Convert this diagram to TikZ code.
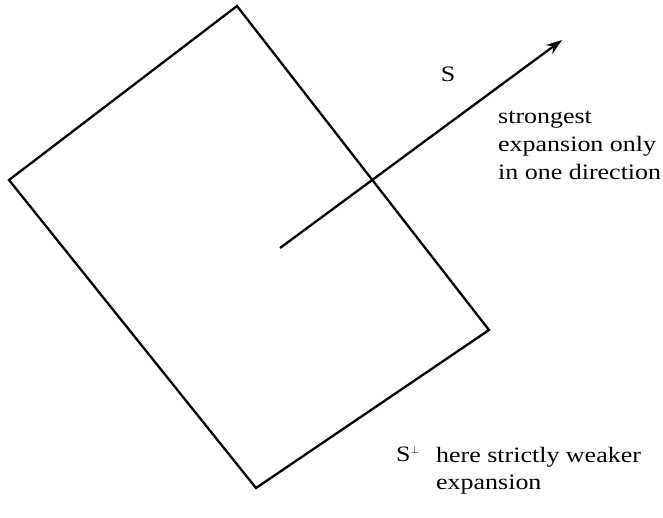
\documentclass[tikz,border=0pt]{standalone}
\usepackage{fontspec}
\setmainfont{Liberation Serif}[FakeStretch=1.18]
\usetikzlibrary{arrows.meta}
\begin{document}
\begin{tikzpicture}[x=1pt,y=-1pt,
  edge/.style={line width=2.3pt,line join=miter},
  lbl/.style={inner sep=0pt,font=\fontsize{22}{28}\selectfont}]
\useasboundingbox (0,0) rectangle (663,517);
\coordinate (t) at (237,6);
\coordinate (l) at (9,180);
\coordinate (b) at (256,488);
\coordinate (r) at (489,330);
\draw[edge] (t) -- (l) -- (b) -- (r) -- cycle;
\coordinate (s0) at (280,248);
\coordinate (s1) at (562,40);
\draw[edge,-{Stealth[length=16pt,width=11pt]}] (s0) -- (s1);
\node[lbl,anchor=base] (S) at (448,81) {S};
\node[lbl,anchor=base west] (strong1) at (498,123) {strongest};
\node[lbl,anchor=base west] (strong2) at (498,151) {expansion only};
\node[lbl,anchor=base west] (strong3) at (498,179) {in one direction};
\node[lbl,anchor=base west] (Sp) at (396,461) {S$^{\scriptscriptstyle\perp}$};
\node[lbl,anchor=base west] (weak1) at (436,462) {here strictly weaker};
\node[lbl,anchor=base west] (weak2) at (436,489) {expansion};
\end{tikzpicture}
\end{document}
